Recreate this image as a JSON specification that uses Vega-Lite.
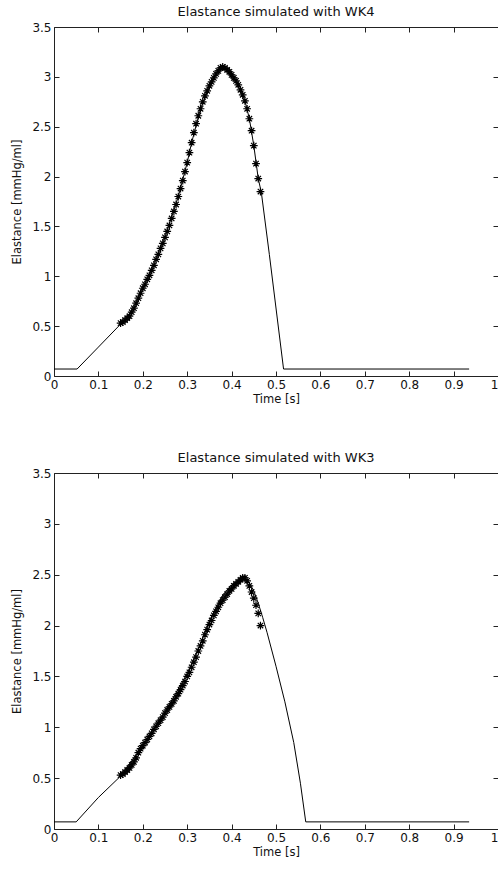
{
  "$schema": "https://vega.github.io/schema/vega-lite/v6.json",
  "padding": {"left": 11, "top": 5, "right": 0, "bottom": 0},
  "config": {
    "font": "DejaVu Sans",
    "view": {"stroke": "#222", "strokeWidth": 1},
    "axis": {"grid": false, "domain": false, "tickColor": "#222", "tickSize": -5, "labelPadding": 8, "labelFontSize": 12, "labelColor": "#111", "titleFontSize": 11.5, "titleFontWeight": "normal", "titleColor": "#111", "labelFont": "DejaVu Sans", "titleFont": "DejaVu Sans"},
    "title": {"fontSize": 13, "fontWeight": "normal", "color": "#111", "offset": 2, "font": "DejaVu Sans"},
    "concat": {"spacing": 46}
  },
  "datasets": {
    "wk4": [
      {"t": 0, "E": 0.07, "s": "model"},
      {"t": 0.052, "E": 0.07, "s": "model"},
      {"t": 0.1, "E": 0.29, "s": "model"},
      {"t": 0.15, "E": 0.52, "s": "model"},
      {"t": 0.18, "E": 0.68, "s": "model"},
      {"t": 0.2, "E": 0.88, "s": "model"},
      {"t": 0.22, "E": 1.06, "s": "model"},
      {"t": 0.25, "E": 1.39, "s": "model"},
      {"t": 0.28, "E": 1.8, "s": "model"},
      {"t": 0.3, "E": 2.14, "s": "model"},
      {"t": 0.31, "E": 2.34, "s": "model"},
      {"t": 0.33, "E": 2.68, "s": "model"},
      {"t": 0.35, "E": 2.91, "s": "model"},
      {"t": 0.36, "E": 2.99, "s": "model"},
      {"t": 0.37, "E": 3.06, "s": "model"},
      {"t": 0.38, "E": 3.1, "s": "model"},
      {"t": 0.39, "E": 3.07, "s": "model"},
      {"t": 0.4, "E": 3.02, "s": "model"},
      {"t": 0.42, "E": 2.87, "s": "model"},
      {"t": 0.43, "E": 2.76, "s": "model"},
      {"t": 0.44, "E": 2.58, "s": "model"},
      {"t": 0.45, "E": 2.31, "s": "model"},
      {"t": 0.46, "E": 1.98, "s": "model"},
      {"t": 0.467, "E": 1.84, "s": "model"},
      {"t": 0.485, "E": 1.22, "s": "model"},
      {"t": 0.517, "E": 0.07, "s": "model"},
      {"t": 0.935, "E": 0.07, "s": "model"},
      {"t": 0.150, "E": 0.53, "s": "data"},
      {"t": 0.155, "E": 0.54, "s": "data"},
      {"t": 0.160, "E": 0.56, "s": "data"},
      {"t": 0.165, "E": 0.58, "s": "data"},
      {"t": 0.170, "E": 0.60, "s": "data"},
      {"t": 0.175, "E": 0.64, "s": "data"},
      {"t": 0.180, "E": 0.68, "s": "data"},
      {"t": 0.185, "E": 0.73, "s": "data"},
      {"t": 0.190, "E": 0.78, "s": "data"},
      {"t": 0.195, "E": 0.83, "s": "data"},
      {"t": 0.200, "E": 0.88, "s": "data"},
      {"t": 0.205, "E": 0.92, "s": "data"},
      {"t": 0.210, "E": 0.97, "s": "data"},
      {"t": 0.215, "E": 1.01, "s": "data"},
      {"t": 0.220, "E": 1.06, "s": "data"},
      {"t": 0.225, "E": 1.11, "s": "data"},
      {"t": 0.230, "E": 1.17, "s": "data"},
      {"t": 0.235, "E": 1.22, "s": "data"},
      {"t": 0.240, "E": 1.28, "s": "data"},
      {"t": 0.245, "E": 1.33, "s": "data"},
      {"t": 0.250, "E": 1.39, "s": "data"},
      {"t": 0.255, "E": 1.45, "s": "data"},
      {"t": 0.260, "E": 1.51, "s": "data"},
      {"t": 0.265, "E": 1.58, "s": "data"},
      {"t": 0.270, "E": 1.65, "s": "data"},
      {"t": 0.275, "E": 1.72, "s": "data"},
      {"t": 0.280, "E": 1.80, "s": "data"},
      {"t": 0.285, "E": 1.88, "s": "data"},
      {"t": 0.290, "E": 1.96, "s": "data"},
      {"t": 0.295, "E": 2.05, "s": "data"},
      {"t": 0.300, "E": 2.14, "s": "data"},
      {"t": 0.305, "E": 2.24, "s": "data"},
      {"t": 0.310, "E": 2.34, "s": "data"},
      {"t": 0.315, "E": 2.44, "s": "data"},
      {"t": 0.320, "E": 2.53, "s": "data"},
      {"t": 0.325, "E": 2.61, "s": "data"},
      {"t": 0.330, "E": 2.68, "s": "data"},
      {"t": 0.335, "E": 2.75, "s": "data"},
      {"t": 0.340, "E": 2.81, "s": "data"},
      {"t": 0.345, "E": 2.86, "s": "data"},
      {"t": 0.350, "E": 2.91, "s": "data"},
      {"t": 0.355, "E": 2.95, "s": "data"},
      {"t": 0.360, "E": 2.99, "s": "data"},
      {"t": 0.365, "E": 3.03, "s": "data"},
      {"t": 0.370, "E": 3.06, "s": "data"},
      {"t": 0.375, "E": 3.09, "s": "data"},
      {"t": 0.380, "E": 3.10, "s": "data"},
      {"t": 0.385, "E": 3.09, "s": "data"},
      {"t": 0.390, "E": 3.07, "s": "data"},
      {"t": 0.395, "E": 3.05, "s": "data"},
      {"t": 0.400, "E": 3.02, "s": "data"},
      {"t": 0.405, "E": 2.99, "s": "data"},
      {"t": 0.410, "E": 2.96, "s": "data"},
      {"t": 0.415, "E": 2.92, "s": "data"},
      {"t": 0.420, "E": 2.87, "s": "data"},
      {"t": 0.425, "E": 2.82, "s": "data"},
      {"t": 0.430, "E": 2.76, "s": "data"},
      {"t": 0.435, "E": 2.68, "s": "data"},
      {"t": 0.440, "E": 2.58, "s": "data"},
      {"t": 0.445, "E": 2.46, "s": "data"},
      {"t": 0.450, "E": 2.31, "s": "data"},
      {"t": 0.455, "E": 2.13, "s": "data"},
      {"t": 0.460, "E": 1.98, "s": "data"},
      {"t": 0.465, "E": 1.85, "s": "data"}
    ],
    "wk3": [
      {"t": 0, "E": 0.07, "s": "model"},
      {"t": 0.05, "E": 0.07, "s": "model"},
      {"t": 0.1, "E": 0.31, "s": "model"},
      {"t": 0.15, "E": 0.52, "s": "model"},
      {"t": 0.2, "E": 0.82, "s": "model"},
      {"t": 0.25, "E": 1.15, "s": "model"},
      {"t": 0.3, "E": 1.53, "s": "model"},
      {"t": 0.33, "E": 1.82, "s": "model"},
      {"t": 0.35, "E": 2.05, "s": "model"},
      {"t": 0.38, "E": 2.3, "s": "model"},
      {"t": 0.4, "E": 2.4, "s": "model"},
      {"t": 0.42, "E": 2.45, "s": "model"},
      {"t": 0.43, "E": 2.45, "s": "model"},
      {"t": 0.44, "E": 2.42, "s": "model"},
      {"t": 0.45, "E": 2.34, "s": "model"},
      {"t": 0.46, "E": 2.22, "s": "model"},
      {"t": 0.47, "E": 2.08, "s": "model"},
      {"t": 0.48, "E": 1.93, "s": "model"},
      {"t": 0.5, "E": 1.6, "s": "model"},
      {"t": 0.52, "E": 1.25, "s": "model"},
      {"t": 0.54, "E": 0.85, "s": "model"},
      {"t": 0.555, "E": 0.45, "s": "model"},
      {"t": 0.567, "E": 0.07, "s": "model"},
      {"t": 0.935, "E": 0.07, "s": "model"},
      {"t": 0.150, "E": 0.53, "s": "data"},
      {"t": 0.155, "E": 0.54, "s": "data"},
      {"t": 0.160, "E": 0.56, "s": "data"},
      {"t": 0.165, "E": 0.58, "s": "data"},
      {"t": 0.170, "E": 0.60, "s": "data"},
      {"t": 0.175, "E": 0.63, "s": "data"},
      {"t": 0.180, "E": 0.66, "s": "data"},
      {"t": 0.185, "E": 0.70, "s": "data"},
      {"t": 0.190, "E": 0.75, "s": "data"},
      {"t": 0.195, "E": 0.79, "s": "data"},
      {"t": 0.200, "E": 0.82, "s": "data"},
      {"t": 0.205, "E": 0.85, "s": "data"},
      {"t": 0.210, "E": 0.88, "s": "data"},
      {"t": 0.215, "E": 0.91, "s": "data"},
      {"t": 0.220, "E": 0.94, "s": "data"},
      {"t": 0.225, "E": 0.98, "s": "data"},
      {"t": 0.230, "E": 1.01, "s": "data"},
      {"t": 0.235, "E": 1.04, "s": "data"},
      {"t": 0.240, "E": 1.07, "s": "data"},
      {"t": 0.245, "E": 1.10, "s": "data"},
      {"t": 0.250, "E": 1.14, "s": "data"},
      {"t": 0.255, "E": 1.17, "s": "data"},
      {"t": 0.260, "E": 1.20, "s": "data"},
      {"t": 0.265, "E": 1.23, "s": "data"},
      {"t": 0.270, "E": 1.26, "s": "data"},
      {"t": 0.275, "E": 1.30, "s": "data"},
      {"t": 0.280, "E": 1.33, "s": "data"},
      {"t": 0.285, "E": 1.37, "s": "data"},
      {"t": 0.290, "E": 1.41, "s": "data"},
      {"t": 0.295, "E": 1.45, "s": "data"},
      {"t": 0.300, "E": 1.50, "s": "data"},
      {"t": 0.305, "E": 1.54, "s": "data"},
      {"t": 0.310, "E": 1.59, "s": "data"},
      {"t": 0.315, "E": 1.64, "s": "data"},
      {"t": 0.320, "E": 1.69, "s": "data"},
      {"t": 0.325, "E": 1.75, "s": "data"},
      {"t": 0.330, "E": 1.80, "s": "data"},
      {"t": 0.335, "E": 1.85, "s": "data"},
      {"t": 0.340, "E": 1.91, "s": "data"},
      {"t": 0.345, "E": 1.96, "s": "data"},
      {"t": 0.350, "E": 2.01, "s": "data"},
      {"t": 0.355, "E": 2.05, "s": "data"},
      {"t": 0.360, "E": 2.10, "s": "data"},
      {"t": 0.365, "E": 2.14, "s": "data"},
      {"t": 0.370, "E": 2.18, "s": "data"},
      {"t": 0.375, "E": 2.22, "s": "data"},
      {"t": 0.380, "E": 2.25, "s": "data"},
      {"t": 0.385, "E": 2.28, "s": "data"},
      {"t": 0.390, "E": 2.31, "s": "data"},
      {"t": 0.395, "E": 2.34, "s": "data"},
      {"t": 0.400, "E": 2.36, "s": "data"},
      {"t": 0.405, "E": 2.39, "s": "data"},
      {"t": 0.410, "E": 2.41, "s": "data"},
      {"t": 0.415, "E": 2.43, "s": "data"},
      {"t": 0.420, "E": 2.45, "s": "data"},
      {"t": 0.425, "E": 2.47, "s": "data"},
      {"t": 0.430, "E": 2.47, "s": "data"},
      {"t": 0.435, "E": 2.44, "s": "data"},
      {"t": 0.440, "E": 2.39, "s": "data"},
      {"t": 0.445, "E": 2.33, "s": "data"},
      {"t": 0.450, "E": 2.27, "s": "data"},
      {"t": 0.455, "E": 2.20, "s": "data"},
      {"t": 0.460, "E": 2.12, "s": "data"},
      {"t": 0.465, "E": 2.00, "s": "data"}
    ]
  },
  "vconcat": [
    {
      "title": "Elastance simulated with WK4",
      "width": 444,
      "height": 349,
      "data": {"name": "wk4"},
      "layer": [
        {
          "transform": [{"filter": "datum.s == 'model'"}],
          "mark": {"type": "line", "color": "#000", "strokeWidth": 1},
          "encoding": {
            "x": {"field": "t", "type": "quantitative", "scale": {"domain": [0, 1], "nice": false},
                  "axis": {"values": [0, 0.1, 0.2, 0.3, 0.4, 0.5, 0.6, 0.7, 0.8, 0.9, 1], "format": "~g", "title": "Time [s]", "titlePadding": 3,
                           "labelAlign": {"condition": {"test": "datum.value == 1", "value": "right"}, "value": "center"}}},
            "y": {"field": "E", "type": "quantitative", "scale": {"domain": [0, 3.5], "nice": false},
                  "axis": {"values": [0, 0.5, 1, 1.5, 2, 2.5, 3, 3.5], "format": "~g", "title": "Elastance [mmHg/ml]", "titlePadding": 9}}
          }
        },
        {
          "transform": [{"filter": "datum.s == 'data'"}],
          "mark": {"type": "point", "shape": "M-1,0L1,0M0,-1L0,1M-0.7,-0.7L0.7,0.7M-0.7,0.7L0.7,-0.7", "filled": false, "color": "#000", "size": 60, "strokeWidth": 1.2, "opacity": 1},
          "encoding": {
            "x": {"field": "t", "type": "quantitative", "scale": {"domain": [0, 1], "nice": false},
                  "axis": {"orient": "top", "labels": false, "title": null, "values": [0, 0.1, 0.2, 0.3, 0.4, 0.5, 0.6, 0.7, 0.8, 0.9, 1]}},
            "y": {"field": "E", "type": "quantitative", "scale": {"domain": [0, 3.5], "nice": false},
                  "axis": {"orient": "right", "labels": false, "title": null, "values": [0, 0.5, 1, 1.5, 2, 2.5, 3, 3.5]}}
          }
        }
      ],
      "resolve": {"axis": {"x": "independent", "y": "independent"}}
    },
    {
      "title": "Elastance simulated with WK3",
      "width": 444,
      "height": 356,
      "data": {"name": "wk3"},
      "layer": [
        {
          "transform": [{"filter": "datum.s == 'model'"}],
          "mark": {"type": "line", "color": "#000", "strokeWidth": 1},
          "encoding": {
            "x": {"field": "t", "type": "quantitative", "scale": {"domain": [0, 1], "nice": false},
                  "axis": {"values": [0, 0.1, 0.2, 0.3, 0.4, 0.5, 0.6, 0.7, 0.8, 0.9, 1], "format": "~g", "title": "Time [s]", "titlePadding": 3,
                           "labelAlign": {"condition": {"test": "datum.value == 1", "value": "right"}, "value": "center"}}},
            "y": {"field": "E", "type": "quantitative", "scale": {"domain": [0, 3.5], "nice": false},
                  "axis": {"values": [0, 0.5, 1, 1.5, 2, 2.5, 3, 3.5], "format": "~g", "title": "Elastance [mmHg/ml]", "titlePadding": 9}}
          }
        },
        {
          "transform": [{"filter": "datum.s == 'data'"}],
          "mark": {"type": "point", "shape": "M-1,0L1,0M0,-1L0,1M-0.7,-0.7L0.7,0.7M-0.7,0.7L0.7,-0.7", "filled": false, "color": "#000", "size": 60, "strokeWidth": 1.2, "opacity": 1},
          "encoding": {
            "x": {"field": "t", "type": "quantitative", "scale": {"domain": [0, 1], "nice": false},
                  "axis": {"orient": "top", "labels": false, "title": null, "values": [0, 0.1, 0.2, 0.3, 0.4, 0.5, 0.6, 0.7, 0.8, 0.9, 1]}},
            "y": {"field": "E", "type": "quantitative", "scale": {"domain": [0, 3.5], "nice": false},
                  "axis": {"orient": "right", "labels": false, "title": null, "values": [0, 0.5, 1, 1.5, 2, 2.5, 3, 3.5]}}
          }
        }
      ],
      "resolve": {"axis": {"x": "independent", "y": "independent"}}
    }
  ]
}
